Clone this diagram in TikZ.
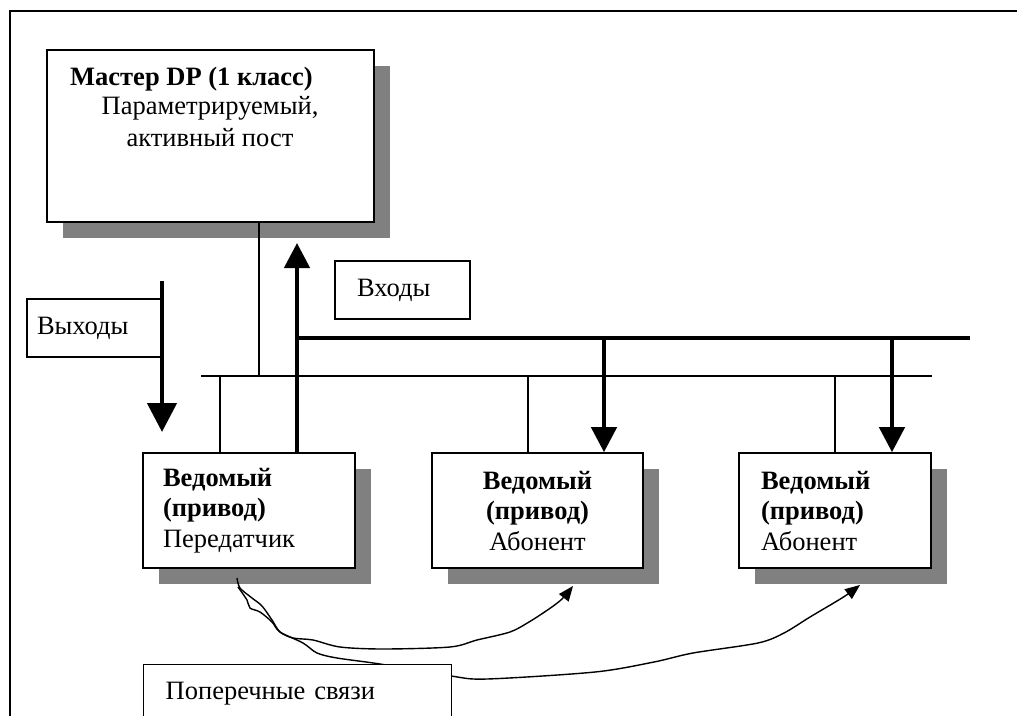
\documentclass[tikz,border=0pt]{standalone}
\usepackage{fontspec}
\setmainfont{Liberation Serif}
\usetikzlibrary{positioning}
\usetikzlibrary{arrows.meta}
\usetikzlibrary{shadows}
\tikzset{x=1pt, y=-1pt, % one unit is one pixel of the picture
unit/.style={ % boxes with a grey shadow
draw, line width=1.6pt, fill=white, inner xsep=20pt, minimum height=115pt,
drop shadow={shadow xshift=16pt, shadow yshift=-16pt, fill=black!50, opacity=1}},
tag/.style={ % plain label boxes
draw, line width=1.4pt, fill=white, minimum height=58pt, inner xsep=22pt, align=left},
txt/.style={font=\fontsize{26.5}{30.5}\selectfont},
bus/.style={line width=1.3pt},
flow/.style={line width=4.5pt, -{Triangle[length=25pt, width=25pt]}}, % thick data arrows
link/.style={line width=1.4pt, -{Triangle[length=15pt, width=12pt]}}}

\begin{document}
\begin{tikzpicture}
    \useasboundingbox (0,0) rectangle (1017,715);
    \clip (0,0) rectangle (1017,715);
    \draw[line width=1.5pt] (10,740) |- (1040,11);
    % master
    \node[unit, minimum width=327pt, minimum height=172pt] (master) at (210.5,136) {};
    \node[font=\fontsize{26.5}{30.5}\selectfont\bfseries, anchor=base west, inner sep=0pt] (mtitle) at (70,85) {Мастер DP (1 класс)};
    \node[font=\fontsize{26.5}{32}\selectfont, anchor=base, align=center] (mrole) at (210,146) {Параметрируемый,\\активный пост};
    % slaves
    \node[unit, txt, text width=172pt, align=left] (slave1) at (249,510.5) {\textbf{Ведомый}\\\textbf{(привод)}\\Передатчик};
    \node[unit, txt, text width=171pt, align=center] (slave2) at (537.5,510.5) {\textbf{Ведомый}\\\textbf{(привод)}\\Абонент};
    \node[unit, txt, text width=148pt, inner xsep=22pt, align=left] (slave3) at (835,510.5) {\textbf{Ведомый}\\\textbf{(привод)}\\Абонент};
    % labels
    \node[tag, txt, text width=91pt] (inputs) at (402.5,290) {Входы};
    \node[tag, txt, text width=115pt, inner xsep=10pt] (outputs) at (94.5,328) {Выходы};
    % bus lines
    \coordinate (busL) at (201,376);
    \coordinate (busR) at (932,376);
    \coordinate (tapM) at (259,376);
    \coordinate (tap1) at (220,376);
    \coordinate (tap2) at (528,376);
    \coordinate (tap3) at (835,376);
    \draw[bus] (busL) -- (busR);
    \draw[bus] (master.south -| tapM) -- (tapM);
    \foreach \i in {1,2,3}
        \draw[bus] (tap\i) -- (slave\i.north -| tap\i);
    % data lines
    \coordinate (dataL) at (297,338);
    \coordinate (dataR) at (970,338);
    \coordinate (inTip) at (297,243);
    \coordinate (drop2) at (604,338);
    \coordinate (drop3) at (892,338);
    \coordinate (outTop) at (162,281);
    \coordinate (outTip) at (162,432);
    \draw[line width=4.5pt] (dataL) -- (dataR);
    \draw[flow] (slave1.north -| inTip) -- (inTip);
    \draw[flow] (drop2) -- (slave2.north -| drop2);
    \draw[flow] (drop3) -- (slave3.north -| drop3);
    \draw[flow, -{Triangle[length=29pt, width=29pt]}] (outTop) -- (outTip);
    % cross links
    \coordinate (linkSrc) at (237,578);
    \coordinate (tip2) at (573,586);
    \coordinate (tip3) at (860,585);
    \draw[link] plot[smooth, tension=0.5] coordinates {(linkSrc) (240,588) (252,598) (262,606) (272,620) (280,632) (293,638) (313,640) (340,647) (383,649) (450,647) (477,640) (510,632) (529,622) (549,609) (562,599) (tip2)};
    \draw[link] plot[smooth, tension=0.5] coordinates {(238,587) (247,600) (250,608) (260,612) (272,622) (280,632) (303,643) (317,653) (337,658) (380,664) (451,676) (487,679) (595,672) (654,662) (693,653) (758,643) (784,633) (810,617) (837,601) (848,594) (tip3)};
    \node[tag, txt, anchor=north west, text width=264pt] (cross) at (143,664) {Поперечные связи};
\end{tikzpicture}
\end{document}
